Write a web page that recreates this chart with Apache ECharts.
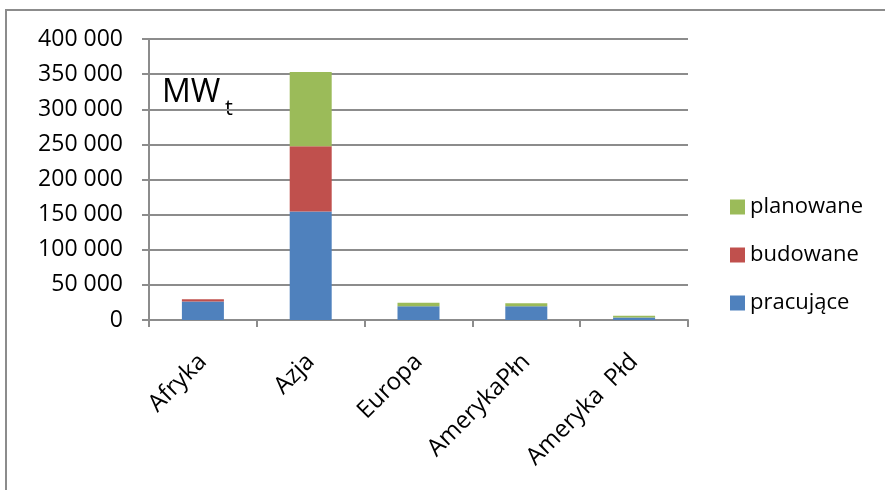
<!DOCTYPE html>
<html>
<head>
<meta charset="utf-8">
<script src="https://cdn.jsdelivr.net/npm/echarts@6/dist/echarts.min.js"></script>
<style>
  html, body { margin: 0; padding: 0; background: #fff; }
  #chart { width: 885px; height: 490px; }
</style>
</head>
<body>
<div id="chart"></div>
<script>
// Heat capacity by continent (MWt), stacked by project status
const regions = ['Afryka', 'Azja', 'Europa', 'AmerykaPłn', 'Ameryka  Płd'];
const pracujace = [26500, 154500, 19400, 19400, 3700];
const budowane  = [3000, 92800, 0, 0, 0];
const planowane = [0, 105600, 5300, 4300, 2400];
const yTicks = [0, 50000, 100000, 150000, 200000, 250000, 300000, 350000, 400000];

const FONT = '"Open Sans", "Noto Sans", sans-serif';
const GRID_GREY = '#8c8c8c';

function spaced(v) {
  return String(v).replace(/\B(?=(\d{3})+(?!\d))/g, ' ');
}

const chart = echarts.init(document.getElementById('chart'), null, { renderer: 'canvas' });

chart.setOption({
  animation: false,
  backgroundColor: '#ffffff',
  color: ['#4F81BD', '#C0504D', '#9BBB59'],
  grid: { left: 149, right: 197, top: 39, bottom: 170, containLabel: false },
  legend: {
    orient: 'vertical',
    left: 725,
    top: 191,
    data: ['planowane', 'budowane', 'pracujące'],
    itemWidth: 15,
    itemHeight: 15,
    itemGap: 26,
    icon: 'rect',
    textStyle: { fontFamily: FONT, fontSize: 22, color: '#000' }
  },
  xAxis: {
    type: 'category',
    data: regions,
    boundaryGap: true,
    axisLine: { show: true, lineStyle: { color: GRID_GREY, width: 2 } },
    axisTick: { show: true, length: 7, alignWithLabel: false, lineStyle: { color: GRID_GREY, width: 2 } },
    axisLabel: {
      rotate: 45,
      interval: 0,
      margin: 38,
      fontFamily: FONT,
      fontSize: 24,
      color: '#000'
    }
  },
  yAxis: {
    type: 'value',
    min: yTicks[0],
    max: yTicks[yTicks.length - 1],
    interval: yTicks[1] - yTicks[0],
    axisLine: { show: true, lineStyle: { color: GRID_GREY, width: 2 } },
    axisTick: { show: true, inside: false, length: 7, lineStyle: { color: GRID_GREY, width: 2 } },
    splitLine: { show: true, lineStyle: { color: GRID_GREY, width: 2 } },
    axisLabel: {
      margin: 26,
      fontFamily: FONT,
      fontSize: 23,
      color: '#000',
      formatter: spaced
    }
  },
  series: [
    { name: 'pracujące', type: 'bar', stack: 'total', data: pracujace, barWidth: 42 },
    { name: 'budowane',  type: 'bar', stack: 'total', data: budowane,  barWidth: 42 },
    { name: 'planowane', type: 'bar', stack: 'total', data: planowane, barWidth: 42 }
  ],
  graphic: [
    {
      type: 'rect',
      shape: { x: 6, y: 10, width: 920, height: 520 },
      style: { fill: 'none', stroke: GRID_GREY, lineWidth: 2 },
      silent: true
    },
    {
      type: 'text',
      left: 162,
      top: 77,
      style: { text: 'MW', font: '32px ' + FONT, fill: '#000' }
    },
    {
      type: 'text',
      left: 225,
      top: 98,
      style: { text: 't', font: '22px ' + FONT, fill: '#000' }
    }
  ]
});
</script>
</body>
</html>
